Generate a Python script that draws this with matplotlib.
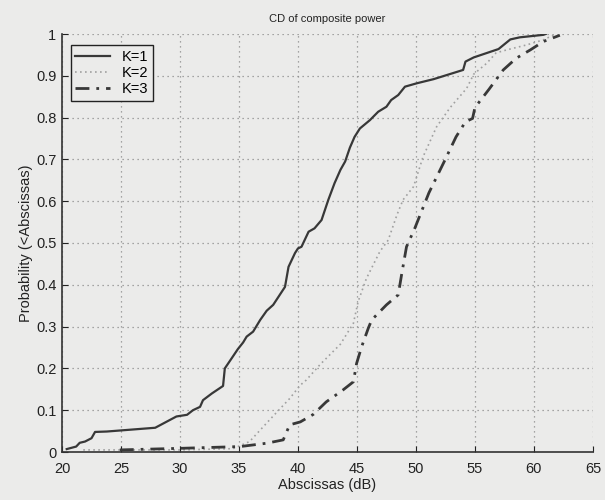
"""CDF of composite power for K=1..3 (scanned MATLAB-style figure)."""

import matplotlib

matplotlib.use("Agg")
import matplotlib.pyplot as plt

# K=1 (solid)
k1_x = [20.4, 21.2, 21.5, 21.95, 22.5, 22.8, 23.8, 27.9, 29.7, 30.6, 31.1, 31.7,
        31.95, 32.7, 33.65, 33.8, 34.4, 34.9, 35.35, 35.65, 36.2, 36.8, 37.35,
        37.9, 38.9, 39.2, 39.75, 40.0, 40.3, 40.9, 41.4, 42.0, 42.57, 43.1, 43.6,
        44.0, 44.4, 44.8, 45.25, 46.1, 46.8, 47.5, 47.9, 48.5, 49.07, 50.06,
        51.5, 54.0, 54.2, 54.9, 57.0, 58.0, 58.8, 60.8, 61.0]
k1_y = [0.007, 0.013, 0.022, 0.025, 0.033, 0.048, 0.049, 0.058, 0.085, 0.089,
        0.1, 0.108, 0.124, 0.14, 0.158, 0.2, 0.225, 0.246, 0.262, 0.276, 0.288,
        0.316, 0.338, 0.352, 0.395, 0.443, 0.476, 0.487, 0.491, 0.527, 0.535,
        0.555, 0.603, 0.643, 0.675, 0.695, 0.728, 0.754, 0.774, 0.794, 0.814,
        0.826, 0.842, 0.854, 0.874, 0.882, 0.892, 0.914, 0.934, 0.944, 0.964,
        0.987, 0.992, 0.998, 1.0]

# K=2 (dotted)
k2_x = [21.8, 25.0, 30.0, 34.5, 35.9, 37.6, 39.3, 40.2, 40.7, 41.9, 43.6, 44.7,
        45.1, 45.8, 46.95, 47.65, 48.4, 48.9, 49.8, 50.6, 51.75, 52.9, 54.3,
        54.9, 56.0, 56.8, 57.7, 59.4, 60.8, 61.4, 61.9]
k2_y = [0.005, 0.005, 0.005, 0.008, 0.025, 0.077, 0.128, 0.16, 0.172, 0.21,
        0.258, 0.308, 0.36, 0.415, 0.48, 0.507, 0.568, 0.603, 0.635, 0.706,
        0.778, 0.824, 0.87, 0.904, 0.93, 0.955, 0.962, 0.974, 0.986, 0.994, 1.0]

# K=3 (dash-dot)
k3_x = [24.9, 30.3, 35.1, 37.35, 38.75, 39.3, 40.2, 41.3, 42.4, 43.8, 44.7,
        44.97, 45.4, 45.96, 46.25, 47.5, 48.5, 48.8, 49.2, 49.9, 51.1, 52.4,
        53.4, 54.2, 54.8, 55.0, 56.2, 57.4, 58.5, 59.7, 60.8, 62.2]
k3_y = [0.005, 0.009, 0.013, 0.021, 0.029, 0.065, 0.072, 0.09, 0.12, 0.148,
        0.168, 0.212, 0.252, 0.296, 0.316, 0.352, 0.376, 0.427, 0.491, 0.535,
        0.62, 0.695, 0.754, 0.79, 0.798, 0.824, 0.868, 0.914, 0.942, 0.962,
        0.982, 0.997]

x_ticks = [20, 25, 30, 35, 40, 45, 50, 55, 60, 65]
y_ticks = [0, 0.1, 0.2, 0.3, 0.4, 0.5, 0.6, 0.7, 0.8, 0.9, 1]
y_tick_labels = ["0", "0.1", "0.2", "0.3", "0.4", "0.5", "0.6", "0.7", "0.8", "0.9", "1"]

bg = "#ebebea"
plt.rcParams["font.family"] = ["Liberation Sans", "DejaVu Sans"]

fig = plt.figure(figsize=(6.05, 5.0), dpi=100, facecolor=bg)
ax = fig.add_axes([0.1025, 0.096, 0.8775, 0.836], facecolor=bg)

ax.plot(k1_x, k1_y, color="#383838", lw=1.6, ls="-", label="K=1")
ax.plot(k2_x, k2_y, color="#a0a0a0", lw=1.2, ls=(0, (1, 2)), label="K=2")
ax.plot(k3_x, k3_y, color="#383838", lw=2.0, ls=(0, (5, 2.5, 1, 2.5)), label="K=3")

ax.set_xlim(20, 65)
ax.set_ylim(0, 1)
ax.set_xticks(x_ticks)
ax.set_yticks(y_ticks)
ax.set_yticklabels(y_tick_labels)
ax.tick_params(direction="in", length=4, labelsize=10.5, colors="#222222")
ax.tick_params(axis="x", pad=7)
ax.tick_params(axis="y", pad=4)
ax.grid(True, ls=(0, (1, 3)), color="#8c8c8c", lw=0.9)

for name, spine in ax.spines.items():
    if name in ("left", "bottom"):
        spine.set_color("#333333")
        spine.set_linewidth(1.2)
    else:
        spine.set_visible(False)

ax.set_title("CD of composite power", fontsize=8, pad=9, color="#222222")
ax.set_xlabel("Abscissas (dB)", fontsize=10.5, labelpad=2, color="#222222")
ax.set_ylabel("Probability (<Abscissas)", fontsize=10.5, labelpad=2, color="#222222")

leg = ax.legend(loc="upper left", fontsize=10.5, fancybox=False, framealpha=1,
                edgecolor="#222222", facecolor=bg, handlelength=2.4,
                borderpad=0.3, labelspacing=0.15, bbox_to_anchor=(0.003, 0.99))
leg.get_frame().set_linewidth(1.0)

fig.savefig("out.png", dpi=100, facecolor=bg)
